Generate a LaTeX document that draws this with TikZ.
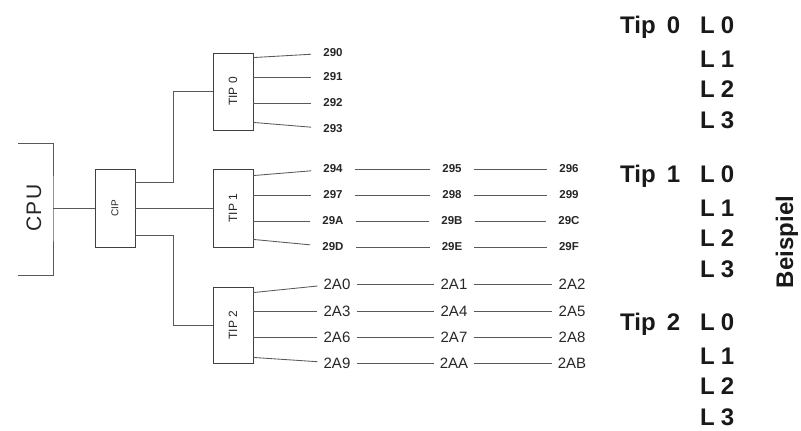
\documentclass[tikz,border=0pt]{standalone}
\usepackage{fontspec}
\setmainfont{Liberation Sans}
\usetikzlibrary{positioning}

\begin{document}
\begin{tikzpicture}[x=1pt,y=-1pt,
  wire/.style={black!65,line width=0.85pt},
  unit/.style={draw=black!75,line width=0.9pt,minimum width=40pt,inner sep=0pt},
  unitname/.style={rotate=90,text=black!85,font=\fontsize{12}{14}\selectfont},
  addr/.style={inner xsep=12pt,inner ysep=1pt,text=black!85,font=\fontsize{11.5}{13}\selectfont\bfseries},
  addrb/.style={inner xsep=6pt,inner ysep=1pt,text=black!85,font=\fontsize{15}{17}\selectfont},
  legend/.style={anchor=base west,inner sep=0pt,text=black!90,font=\fontsize{24}{28}\selectfont\bfseries}]
  \useasboundingbox (0,0) rectangle (801,431);

  % CPU and channel processor
  \node[rotate=90,text=black!85,font=\fontsize{21}{26}\selectfont] (cpu) at (34,208) {C\kern1.5pt P\kern1.5pt U};
  \coordinate (cpuport) at (53,208);
  \draw[wire] (18,143) -| (cpuport) |- (18,275);
  \node[unit,minimum height=78pt] (cip) at (115,208) {};
  \node[unitname,font=\fontsize{10}{12}\selectfont] (cip-t) at (cip) {CIP};
  \draw[wire] (cpuport) -- (cip);

  % terminal processors
  \node[unit,minimum height=77pt] (tip0) at (233,91.5) {};
  \node[unit,minimum height=78pt] (tip1) at (233,208) {};
  \node[unit,minimum height=76pt] (tip2) at (233,325) {};
  \foreach \t in {0,1,2}
    \node[unitname] (tip\t-t) at (tip\t) {TIP \t};
  \draw[wire] ([yshift=26pt]cip.east) -- ++(38,0) |- (tip0.west);
  \draw[wire] (cip) -- (tip1);
  \draw[wire] ([yshift=-27pt]cip.east) -- ++(38,0) |- (tip2.west);

  % lines of TIP 0
  \foreach \a/\y in {290/53,291/77,292/103,293/129}
    \node[addr] (a\a) at (333,\y) {\a};
  \draw[wire] ([yshift=-5pt]tip0.north east) -- (a290);
  \draw[wire] (a291 -| tip0.east) -- (a291);
  \draw[wire] (a292 -| tip0.east) -- (a292);
  \draw[wire] ([yshift=8pt]tip0.south east) -- (a293);

  % lines of TIP 1
  \foreach \a/\b/\c/\y in {294/295/296/169,297/298/299/195,29A/29B/29C/221,29D/29E/29F/247}{
    \node[addr] (a\a) at (333,\y) {\a};
    \node[addr] (a\b) at (452,\y) {\b};
    \node[addr] (a\c) at (569,\y) {\c};
    \draw[wire] (a\a) -- (a\b) -- (a\c);
  }
  \draw[wire] ([yshift=-7pt]tip1.north east) -- (a294);
  \draw[wire] (a297 -| tip1.east) -- (a297);
  \draw[wire] (a29A -| tip1.east) -- (a29A);
  \draw[wire] ([yshift=8pt]tip1.south east) -- (a29D);

  % lines of TIP 2
  \foreach \a/\b/\c/\y in {2A0/2A1/2A2/284,2A3/2A4/2A5/311,2A6/2A7/2A8/337,2A9/2AA/2AB/363}{
    \node[addrb] (a\a) at (337,\y) {\a};
    \node[addrb] (a\b) at (454,\y) {\b};
    \node[addrb] (a\c) at (572,\y) {\c};
    \draw[wire] (a\a) -- (a\b) -- (a\c);
  }
  \draw[wire] ([yshift=-6pt]tip2.north east) -- (a2A0);
  \draw[wire] (a2A3 -| tip2.east) -- (a2A3);
  \draw[wire] (a2A6 -| tip2.east) -- (a2A6);
  \draw[wire] ([yshift=6pt]tip2.south east) -- (a2A9);

  % example
  \foreach \g/\y in {0/25,1/174,2/322}{
    \node[legend] (leg\g) at (620,\y+8.5) {Tip\hspace{11pt}\g};
    \foreach \l/\dy in {0/0,1/34,2/64,3/95}
      \node[legend] (leg\g-\l) at (700,\y+\dy+8.5) {L\hspace{6pt}\l};
  }
  \node[rotate=90,text=black!90,font=\fontsize{24}{28}\selectfont\bfseries] (bsp) at (787,242) {Beispiel};
\end{tikzpicture}
\end{document}
